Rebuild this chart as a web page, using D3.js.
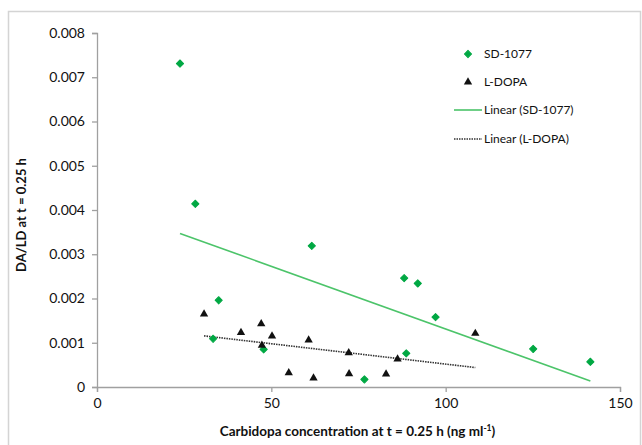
<!DOCTYPE html>
<html lang="en">
<head>
<meta charset="utf-8">
<script src="https://cdn.jsdelivr.net/npm/d3@7"></script>
<style>
  body { margin: 0; background: #fff; }
  text { font-family: Lato, "Open Sans", sans-serif; fill: #111; }
</style>
</head>
<body>
<div id="chart"></div>
<script>
// data
var sdX = [23.8, 28.2, 34.9, 33.3, 47.8, 61.6, 76.7, 88.1, 88.7, 92.0, 97.1, 125.1, 141.5];
var sdY = [0.00731, 0.00414, 0.00196, 0.00109, 0.00085, 0.00319, 0.00017, 0.00246, 0.00076, 0.00234, 0.00158, 0.00086, 0.00057];
var ldX = [30.7, 41.3, 47.1, 47.3, 50.2, 55.0, 60.7, 62.1, 72.2, 72.3, 82.9, 86.2, 108.5];
var ldY = [0.00165, 0.00123, 0.00143, 0.00094, 0.00115, 0.00032, 0.00106, 0.00020, 0.00077, 0.00030, 0.00029, 0.00063, 0.00121];
var xTicks = [0, 50, 100, 150];
var yTicks = [0, 0.001, 0.002, 0.003, 0.004, 0.005, 0.006, 0.007, 0.008];

var W = 642, H = 445;
var margin = {top: 33, right: 22, bottom: 58, left: 97};
var width = W - margin.left - margin.right,
    height = H - margin.top - margin.bottom;

var svg = d3.select("#chart").append("svg")
    .attr("width", W).attr("height", H);

// outer frame
svg.append("rect")
    .attr("x", 8.5).attr("y", 11.5)
    .attr("width", 632).attr("height", 460)
    .attr("fill", "none").attr("stroke", "#d4d4d4").attr("stroke-width", 1.5);

var g = svg.append("g")
    .attr("transform", "translate(" + margin.left + "," + margin.top + ")");

var x = d3.scaleLinear().domain([0, 150]).range([0, width]);
var y = d3.scaleLinear().domain([0, 0.008]).range([height, 0]);

var xAxis = g.append("g")
    .attr("transform", "translate(0," + height + ")")
    .call(d3.axisBottom(x).tickValues(xTicks).tickSize(5).tickPadding(6));
var yAxis = g.append("g")
    .call(d3.axisLeft(y).tickValues(yTicks).tickSize(5).tickPadding(7)
          .tickFormat(function(d){ return d === 0 ? "0" : d3.format(".3f")(d); }));

[xAxis, yAxis].forEach(function(a){
  a.select(".domain").attr("stroke", "#a0a0a0").attr("stroke-width", 1.3);
  a.selectAll(".tick line").attr("stroke", "#a0a0a0").attr("stroke-width", 1.3);
  a.selectAll(".tick text").style("font-family", "Lato, sans-serif")
    .style("font-size", "14px").attr("fill", "#111");
});

// axis titles
var xt = svg.append("text")
    .attr("x", margin.left + width / 2 - 1).attr("y", 436)
    .attr("text-anchor", "middle")
    .style("font-size", "13.5px").style("font-weight", "bold");
xt.append("tspan").text("Carbidopa concentration at t = 0.25 h (ng ml");
xt.append("tspan").attr("dy", -5).style("font-size", "8.5px").text("-1");
xt.append("tspan").attr("dy", 5).text(")");

svg.append("text")
    .attr("transform", "translate(26," + 215 + ") rotate(-90)")
    .attr("text-anchor", "middle")
    .style("font-size", "13px").style("font-weight", "bold")
    .text("DA/LD at t = 0.25 h");

// linear trend lines (least squares over the points)
function fit(xs, ys) {
  var mx = d3.mean(xs), my = d3.mean(ys), sxy = 0, sxx = 0;
  xs.forEach(function(v, i){ sxy += (v - mx) * (ys[i] - my); sxx += (v - mx) * (v - mx); });
  var b = sxy / sxx, a = my - b * mx;
  var x0 = d3.min(xs), x1 = d3.max(xs);
  return [[x0, a + b * x0], [x1, a + b * x1]];
}
var line = d3.line().x(function(d){ return x(d[0]); }).y(function(d){ return y(d[1]); });

g.append("path").datum(fit(sdX, sdY)).attr("d", line)
    .attr("fill", "none").attr("stroke", "#4cc46a").attr("stroke-width", 1.6);
g.append("path").datum(fit(ldX, ldY)).attr("d", line)
    .attr("fill", "none").attr("stroke", "#333").attr("stroke-width", 1.6)
    .attr("stroke-dasharray", "1.5,1");

// markers: small rounded diamond (rotated square) and triangle
var diamond = d3.symbol().type(d3.symbolSquare).size(26);
var tri = d3.symbol().type(d3.symbolTriangle).size(30);

g.selectAll(".sd").data(sdX).enter().append("path")
    .attr("class", "sd").attr("d", diamond)
    .attr("transform", function(d, i){ return "translate(" + x(d) + "," + y(sdY[i]) + ") rotate(45)"; })
    .attr("fill", "#00a843").attr("stroke", "#00a843").attr("stroke-width", 1).attr("stroke-linejoin", "round");
g.selectAll(".ld").data(ldX).enter().append("path")
    .attr("class", "ld").attr("d", tri)
    .attr("transform", function(d, i){ return "translate(" + x(d) + "," + y(ldY[i]) + ")"; })
    .attr("fill", "#111");

// legend
var leg = svg.append("g");
leg.append("path").attr("d", diamond).attr("transform", "translate(468,54) rotate(45)")
    .attr("fill", "#00a843").attr("stroke", "#00a843").attr("stroke-width", 1).attr("stroke-linejoin", "round");
leg.append("path").attr("d", tri).attr("transform", "translate(468,82)").attr("fill", "#111");
leg.append("line").attr("x1", 454).attr("x2", 482).attr("y1", 110).attr("y2", 110)
    .attr("stroke", "#4cc46a").attr("stroke-width", 1.6);
leg.append("line").attr("x1", 454).attr("x2", 482).attr("y1", 139).attr("y2", 139)
    .attr("stroke", "#333").attr("stroke-width", 1.6).attr("stroke-dasharray", "1.5,1");
var labels = ["SD-1077", "L-DOPA", "Linear (SD-1077)", "Linear (L-DOPA)"];
var ly = [54, 82, 110, 139];
labels.forEach(function(t, i){
  leg.append("text").attr("x", 484).attr("y", ly[i]).attr("dy", "0.35em")
     .style("font-size", "12px").text(t);
});
</script>
</body>
</html>
